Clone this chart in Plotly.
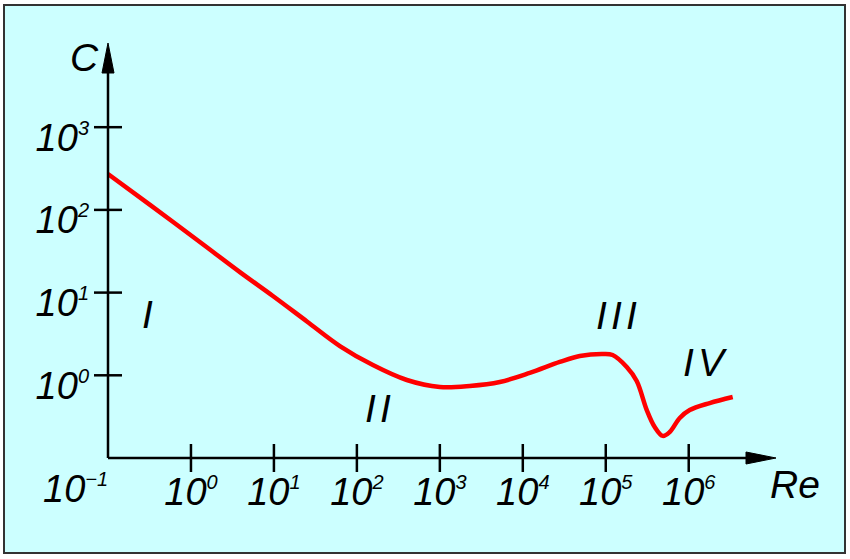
import plotly.graph_objects as go

# ---- data ----
re_values = [0.1, 0.321, 1.28, 3.89, 9.72, 25.0, 62.4, 156, 400, 1000, 2296, 5284,
             12130, 27900, 48600, 92000, 121000, 179000, 236000, 312000, 389000,
             486000, 590000, 780000, 1028000, 1790000, 3390000]
c_values = [272, 115, 40.9, 17.7, 9.10, 4.48, 2.26, 1.33, 0.877, 0.723, 0.743, 0.830,
            1.067, 1.449, 1.710, 1.811, 1.758, 1.259, 0.853, 0.380, 0.237,
            0.185, 0.206, 0.305, 0.380, 0.462, 0.547]
x_tick_vals = [1, 10, 100, 1000, 1e4, 1e5, 1e6]
x_tick_exps = ["0", "1", "2", "3", "4", "5", "6"]
y_tick_vals = [1, 10, 100, 1000]
y_tick_exps = ["0", "1", "2", "3"]
regions = ["I", "II", "III", "IV"]

W, H = 850, 559
ML, MR, MT, MB = 108, 75, 43, 101
PW, PH = W - ML - MR, H - MT - MB


def px(x):
    return (x - ML) / PW


def py(y):
    return (H - MB - y) / PH


def sup(base, e):
    return f"{base}<sup><span style='font-size:20px'>{e}</span></sup>"


FONT = "Arial, Liberation Sans, sans-serif"
TICK_FONT = dict(family=FONT, size=38, color="black", style="italic")

fig = go.Figure()

fig.add_trace(go.Scatter(x=re_values, y=c_values, mode="lines",
                         line=dict(color="#ff0000", width=4.5, shape="spline", smoothing=1.0),
                         hoverinfo="skip", showlegend=False))

# crossing tick marks on the axes
fig.add_trace(go.Scatter(x=x_tick_vals, y=[0.1] * len(x_tick_vals), mode="markers",
                         marker=dict(symbol="line-ns-open", size=20, color="black",
                                     line=dict(color="black", width=2.5)),
                         cliponaxis=False, hoverinfo="skip", showlegend=False))
fig.add_trace(go.Scatter(x=[0.1] * len(y_tick_vals), y=y_tick_vals, mode="markers",
                         marker=dict(symbol="line-ew-open", size=20, color="black",
                                     line=dict(color="black", width=2.5)),
                         cliponaxis=False, hoverinfo="skip", showlegend=False))

fig.update_xaxes(type="log", range=[-1, 7.04], showgrid=False, zeroline=False, showline=False,
                 tickvals=x_tick_vals, ticktext=[sup("10", e) for e in x_tick_exps],
                 ticks="", ticklabelstandoff=8, tickfont=TICK_FONT)
fig.update_yaxes(type="log", range=[-1, 4.018], showgrid=False, zeroline=False, showline=False,
                 tickvals=y_tick_vals, ticktext=[sup("10", e) for e in y_tick_exps],
                 ticks="", ticklabelstandoff=18, ticklabelshift=10, tickfont=TICK_FONT)

shapes = []
# background panel with border
shapes.append(dict(type="rect", xref="paper", yref="paper", layer="below",
                    x0=px(4), x1=px(845), y0=py(553), y1=py(5),
                    fillcolor="#ccffff", line=dict(color="#333333", width=2)))
# axis lines
shapes.append(dict(type="line", xref="paper", yref="paper", x0=px(108), x1=px(108), y0=py(458), y1=py(70),
                   line=dict(color="black", width=2.5)))
shapes.append(dict(type="line", xref="paper", yref="paper", x0=px(108), x1=px(750), y0=py(458), y1=py(458),
                   line=dict(color="black", width=2.5)))
# arrowheads
shapes.append(dict(type="path", xref="paper", yref="paper",
                   path=f"M {px(108)} {py(43)} L {px(102)} {py(73)} L {px(114)} {py(73)} Z",
                   fillcolor="black", line=dict(color="black", width=1)))
shapes.append(dict(type="path", xref="paper", yref="paper",
                   path=f"M {px(776)} {py(458)} L {px(746)} {py(452)} L {px(746)} {py(464)} Z",
                   fillcolor="black", line=dict(color="black", width=1)))

thin = "<span style='font-size:15px'> </span>"
ann = []
lab_font = dict(family=FONT, size=39, color="black", style="italic")
ann.append(dict(text="C", x=px(84), y=py(57), xref="paper", yref="paper", showarrow=False,
                font=lab_font, xanchor="center", yanchor="middle"))
ann.append(dict(text="Re", x=px(795), y=py(484), xref="paper", yref="paper", showarrow=False,
                font=lab_font, xanchor="center", yanchor="middle"))
ann.append(dict(text=sup("10", "\u22121"), x=px(75), y=py(489), xref="paper", yref="paper", showarrow=False,
                font=TICK_FONT, xanchor="center", yanchor="middle"))
reg_pos = [(147, 314), (378, 408), (616, 315), (705, 362)]
for name, (cx, cy) in zip(regions, reg_pos):
    ann.append(dict(text=thin.join(list(name)), x=px(cx), y=py(cy), xref="paper", yref="paper",
                    showarrow=False, font=lab_font, xanchor="center", yanchor="middle"))

fig.update_layout(width=W, height=H, margin=dict(l=ML, r=MR, t=MT, b=MB, pad=0),
                  paper_bgcolor="white", plot_bgcolor="rgba(0,0,0,0)",
                  shapes=shapes, annotations=ann, showlegend=False)

fig.write_html("out.html", post_script="document.body.style.margin='0';",
               config={"displayModeBar": False})
